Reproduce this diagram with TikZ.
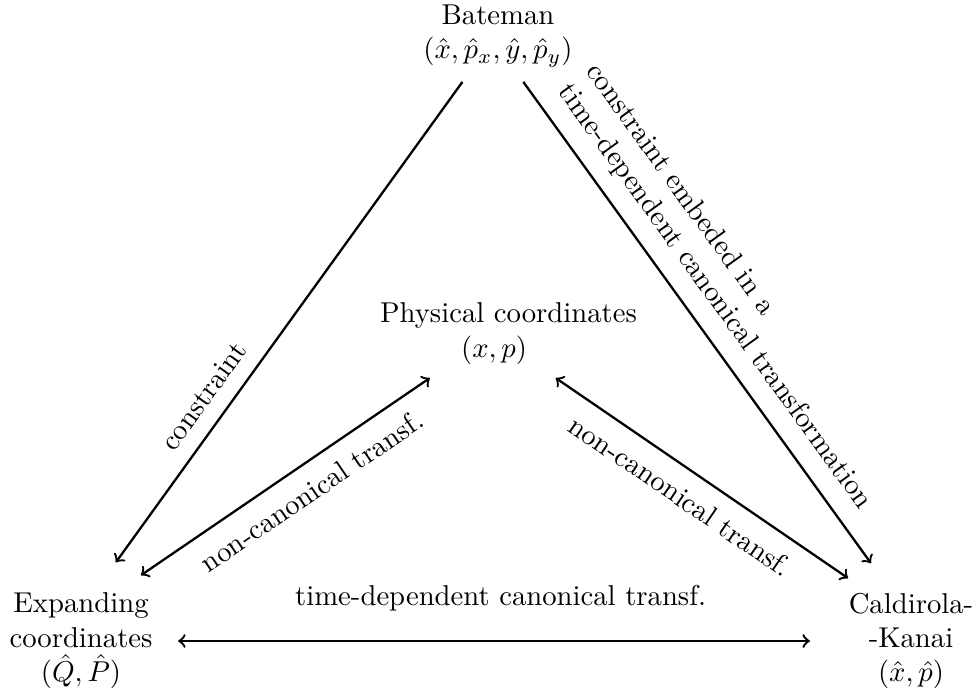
\documentclass[tikz,border=0pt]{standalone}
\begin{document}
\begin{tikzpicture}[x=0.3484pt,y=-0.3484pt,
  lbl/.style={align=center},
  conn/.style={thick},
  edgelbl/.style={sloped}]
\useasboundingbox (0,0) rectangle (976,693);
\node[lbl] (bat) at (498,36) {Bateman\\$(\hat{x},\hat{p}_x,\hat{y},\hat{p}_y)$};
\node[lbl] (phys) at (508.5,333.8) {Physical coordinates\\$(x,p)$\hspace*{10pt}};
\node[lbl] (exp) at (81,641) {Expanding\\coordinates\\$(\hat{Q},\hat{P})$};
\node[lbl] (cal) at (911,641) {Caldirola-\\-Kanai\\$(\hat{x},\hat{p})$};
\draw[conn,->,shorten <=2pt,shorten >=8.8pt] (bat.232.5) -- node[edgelbl,above=2pt,pos=0.661]{constraint} (exp.71.5);
\draw[conn,->,shorten <=2pt,shorten >=8.4pt] (bat.298.5) -- node[edgelbl,above=2pt,pos=0.468,align=left]{constraint embeded in a\\time-dependent canonical transformation} (cal.114.3);
\draw[conn,<->,shorten <=2pt,shorten >=4.7pt] (phys.209.1) -- node[edgelbl,below=2pt,pos=0.453]{non-canonical transf.} (exp.50.1);
\draw[conn,<->,shorten <=2pt,shorten >=2.8pt] (phys.316.3) -- node[edgelbl,below=2pt,pos=0.477]{non-canonical transf.} (cal.134.4);
\draw[conn,<->,shorten <=5.4pt,shorten >=10pt] (exp.east) -- node[above=6.7pt]{time-dependent canonical transf.} (cal.west);
\end{tikzpicture}
\end{document}
